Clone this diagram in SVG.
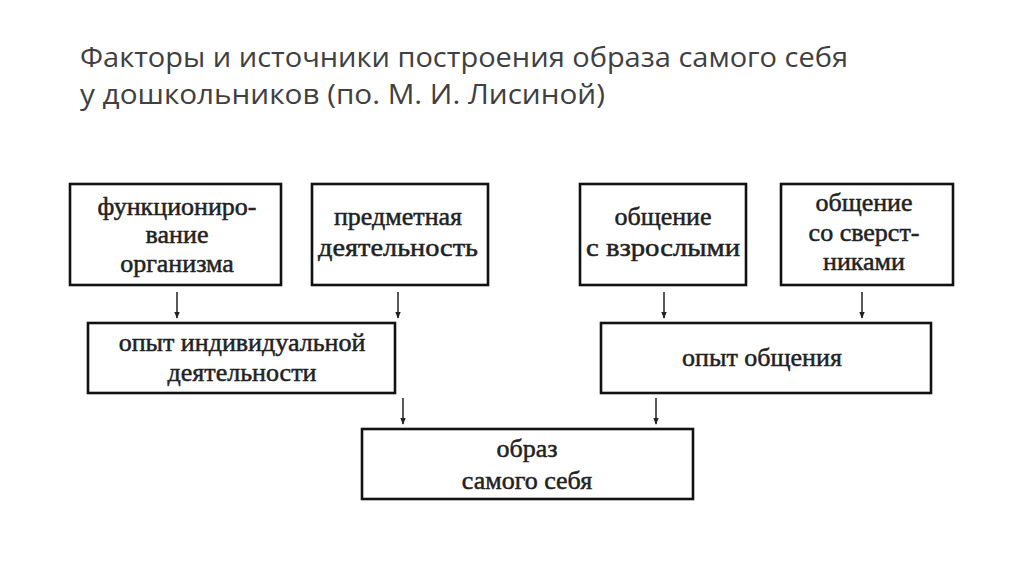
<svg xmlns="http://www.w3.org/2000/svg" width="1024" height="574" viewBox="0 0 1024 574">
<defs>
<style>
.box{fill:#fff;stroke:#111;stroke-width:2.6}
.t{font-family:"Liberation Serif","DejaVu Serif",serif;font-size:26px;fill:#222;stroke:#222;stroke-width:0.5;text-anchor:middle}
.title{font-family:"Open Sans","Noto Sans",sans-serif;font-size:28px;fill:#404040}
.c{stroke:#222;stroke-width:1.5;fill:none;marker-end:url(#ah)}
</style>
<marker id="ah" viewBox="0 0 10 10" refX="9" refY="5" markerWidth="7" markerHeight="7" orient="auto" markerUnits="userSpaceOnUse">
<path d="M0,1 L10,5 L0,9 Z" fill="#222"/>
</marker>
</defs>
<rect width="1024" height="574" fill="#fff"/>
<text class="title" x="80" y="67" textLength="768" lengthAdjust="spacingAndGlyphs">Факторы и источники построения образа самого себя</text>
<text class="title" x="80" y="104" textLength="525" lengthAdjust="spacingAndGlyphs">у дошкольников (по. М. И. Лисиной)</text>

<g id="n1"><rect class="box" x="70" y="184" width="211" height="101"/>
<text class="t" x="177" y="215">функциониро-</text><text class="t" x="177" y="243">вание</text><text class="t" x="177" y="272">организма</text></g>
<g id="n2"><rect class="box" x="312" y="184" width="176" height="101"/>
<text class="t" x="398" y="225">предметная</text><text class="t" x="398" y="256" textLength="160" lengthAdjust="spacingAndGlyphs">деятельность</text></g>
<g id="n3"><rect class="box" x="580" y="184" width="166" height="101"/>
<text class="t" x="663" y="225">общение</text><text class="t" x="663" y="256" textLength="154" lengthAdjust="spacingAndGlyphs">с взрослыми</text></g>
<g id="n4"><rect class="box" x="781" y="184" width="172" height="101"/>
<text class="t" x="864" y="211">общение</text><text class="t" x="864" y="241">со сверст-</text><text class="t" x="864" y="270">никами</text></g>
<g id="n5"><rect class="box" x="88" y="323" width="307" height="70"/>
<text class="t" x="242" y="351">опыт индивидуальной</text><text class="t" x="242" y="381">деятельности</text></g>
<g id="n6"><rect class="box" x="601" y="323" width="330" height="70"/>
<text class="t" x="762" y="366">опыт общения</text></g>
<g id="n7"><rect class="box" x="362" y="429" width="331" height="70"/>
<text class="t" x="527" y="457">образ</text><text class="t" x="527" y="489">самого себя</text></g>

<g id="connectors">
<line class="c" x1="177" y1="292" x2="177" y2="318"/>
<line class="c" x1="398" y1="292" x2="398" y2="318"/>
<line class="c" x1="664" y1="292" x2="664" y2="318"/>
<line class="c" x1="862" y1="292" x2="862" y2="318"/>
<line class="c" x1="403" y1="398" x2="403" y2="424"/>
<line class="c" x1="656" y1="398" x2="656" y2="424"/>
</g>
</svg>
